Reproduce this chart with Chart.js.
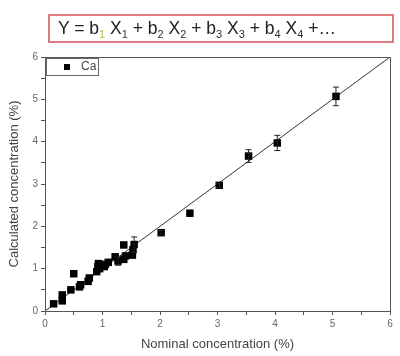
<!DOCTYPE html>
<html>
<head>
<meta charset="utf-8">
<script src="https://cdn.jsdelivr.net/npm/chart.js@4/dist/chart.umd.min.js"></script>
<style>
  body { margin: 0; background: #fff; }
  #wrap { position: relative; width: 400px; height: 356px; }
  #eq {
    position: absolute; left: 48px; top: 14px; height: 25px; width: 334px;
    border: 2px solid #e07a80; font: 17.5px "Liberation Sans", Arial, sans-serif;
    color: #222; padding: 0 0 0 8px; line-height: 25px;
  }
  #eq sub { font-size: 11px; vertical-align: -4px; line-height: 0; color: #333; }
  #eq sub.hl { color: #b0b840; }
</style>
</head>
<body>
<div id="wrap">
  <canvas id="chart" width="400" height="356"></canvas>
  <div id="eq">Y = b<sub class="hl">1</sub> X<sub>1</sub> + b<sub>2</sub> X<sub>2</sub> + b<sub>3</sub> X<sub>3</sub> + b<sub>4</sub> X<sub>4</sub> +&hellip;</div>
</div>
<script>
"use strict";
const nominal = [0.15, 0.3, 0.3, 0.45, 0.5, 0.6, 0.62, 0.75, 0.77, 0.9, 0.92, 0.93, 0.95, 1.03, 1.05, 1.1,
	1.22, 1.27, 1.37, 1.37, 1.4, 1.52, 1.53, 1.55, 2.02, 2.52, 3.03, 3.54, 4.04, 5.06];
const calculated = [0.17, 0.38, 0.24, 0.5, 0.88, 0.57, 0.62, 0.7, 0.78, 0.93, 1.05, 1.12, 1.0, 1.05, 1.1, 1.15,
	1.28, 1.18, 1.56, 1.22, 1.3, 1.32, 1.45, 1.57, 1.85, 2.31, 2.97, 3.66, 3.97, 5.07];
const errors = [0, 0, 0, 0, 0, 0, 0, 0, 0, 0, 0, 0, 0, 0, 0, 0,
	0, 0.1, 0, 0, 0, 0, 0, 0.18, 0.05, 0, 0.05, 0.15, 0.18, 0.22];
const fitLine = [{ x: 0, y: 0 }, { x: 6, y: 6 }];
const seriesLabel = "Ca";
const xTitle = "Nominal concentration (%)";
const yTitle = "Calculated concentration (%)";

const points = nominal.map((x, i) => ({ x: x, y: calculated[i] }));

const tickFont = { family: "'Liberation Sans', Arial, sans-serif", size: 10 };
const titleFont = { family: "'Liberation Sans', Arial, sans-serif", size: 13 };

// frame, error bars and the little legend box
const extras = {
	id: "extras",
	afterDatasetsDraw(chart) {
		const ctx = chart.ctx;
		const xs = chart.scales.x;
		const ys = chart.scales.y;
		ctx.save();
		ctx.strokeStyle = "#222";
		ctx.lineWidth = 1;
		errors.forEach((e, i) => {
			if (!e) return;
			const px = xs.getPixelForValue(nominal[i]);
			const top = ys.getPixelForValue(calculated[i] + e);
			const bot = ys.getPixelForValue(calculated[i] - e);
			ctx.beginPath();
			ctx.moveTo(px, top);
			ctx.lineTo(px, bot);
			ctx.moveTo(px - 3, top);
			ctx.lineTo(px + 3, top);
			ctx.moveTo(px - 3, bot);
			ctx.lineTo(px + 3, bot);
			ctx.stroke();
		});
		const a = chart.chartArea;
		ctx.strokeStyle = "#555";
		ctx.strokeRect(a.left + 0.5, a.top + 0.5, a.right - a.left, a.bottom - a.top);
		ctx.strokeStyle = "#666";
		ctx.strokeRect(a.left + 1.5, a.top + 1.5, 52, 17);
		ctx.fillStyle = "#000";
		ctx.fillRect(a.left + 19, a.top + 7, 6, 6);
		ctx.fillStyle = "#444";
		ctx.font = "12px 'Liberation Sans', Arial, sans-serif";
		ctx.textBaseline = "middle";
		ctx.fillText(seriesLabel, a.left + 36, a.top + 10);
		ctx.restore();
	}
};

new Chart(document.getElementById("chart"), {
	type: "scatter",
	data: {
		datasets: [
			{
				label: "fit",
				type: "line",
				data: fitLine,
				borderColor: "#333",
				borderWidth: 1,
				pointRadius: 0,
				order: 2,
			},
			{
				label: seriesLabel,
				data: points,
				pointStyle: "rect",
				pointRadius: 5.3,
				backgroundColor: "#000",
				borderColor: "#000",
				borderWidth: 0,
				order: 1,
			},
		],
	},
	options: {
		responsive: false,
		animation: false,
		layout: { padding: { top: 57, right: 10, left: 0, bottom: 0 } },
		plugins: { legend: { display: false }, tooltip: { enabled: false } },
		scales: {
			x: {
				type: "linear",
				min: 0,
				max: 6,
				afterFit: (s) => { s.height = 45; },
				border: { display: true, color: "#555" },
				grid: { drawOnChartArea: false, tickLength: 4, color: "#555" },
				ticks: {
					stepSize: 0.5,
					autoSkip: false,
					maxRotation: 0,
					color: "#666",
					font: tickFont,
					padding: 3,
					callback: (v) => (v % 1 === 0 ? v : ""),
				},
				title: { display: true, text: xTitle, color: "#444", font: titleFont, padding: { top: 3 } },
			},
			y: {
				type: "linear",
				min: 0,
				max: 6,
				afterFit: (s) => { s.width = 45; },
				border: { display: true, color: "#555" },
				grid: { drawOnChartArea: false, tickLength: 4, color: "#555" },
				ticks: {
					stepSize: 0.5,
					autoSkip: false,
					color: "#666",
					font: tickFont,
					padding: 3,
					callback: (v) => (v % 1 === 0 ? v : ""),
				},
				title: { display: true, text: yTitle, color: "#444", font: titleFont, padding: { top: 7 } },
			},
		},
	},
	plugins: [extras],
});
</script>
</body>
</html>
